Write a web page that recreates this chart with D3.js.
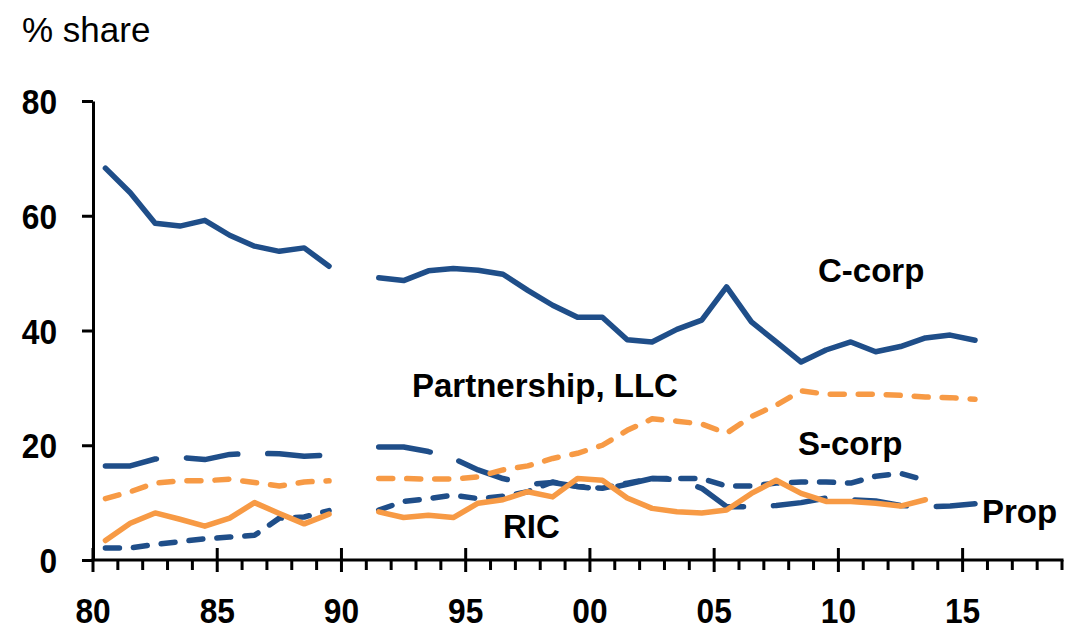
<!DOCTYPE html>
<html>
<head>
<meta charset="utf-8">
<script src="https://cdn.jsdelivr.net/npm/d3@7"></script>
<style>
    body { margin: 0; background: #fff; }
    text { font-family: "Liberation Sans", Arial, sans-serif; }
</style>
</head>
<body>
<div class="share-chart"></div>
<script>
// // Data (1990 is missing in every series)
const years = [1980, 1981, 1982, 1983, 1984, 1985, 1986, 1987, 1988, 1989,
    1990, 1991, 1992, 1993, 1994, 1995, 1996, 1997, 1998, 1999,
    2000, 2001, 2002, 2003, 2004, 2005, 2006, 2007, 2008, 2009,
    2010, 2011, 2012, 2013, 2014, 2015]

const cCorp = [68.3, 64.0, 58.7, 58.2, 59.2, 56.6, 54.7, 53.8, 54.4, 51.2,
    null, 49.2, 48.7, 50.4, 50.8, 50.5, 49.8, 47.0, 44.4, 42.3,
    42.3, 38.4, 38.0, 40.2, 41.8, 47.6, 41.5, 38.0, 34.5, 36.6,
    38.0, 36.3, 37.2, 38.7, 39.2, 38.3]

const partnership = [10.7, 11.9, 13.4, 13.8, 13.8, 14.1, 13.5, 12.9, 13.6, 13.8,
    null, 14.2, 14.2, 14.1, 14.1, 14.5, 15.7, 16.4, 17.7, 18.6,
    20.0, 22.6, 24.6, 24.2, 23.7, 22.1, 25.0, 27.0, 29.5, 28.9,
    28.9, 28.9, 28.7, 28.4, 28.3, 28.0]

const sCorp = [2.1, 2.1, 2.7, 3.2, 3.7, 4.0, 4.3, 7.3, 7.5, 8.6,
    null, 8.7, 10.2, 10.7, 11.3, 10.7, 11.1, 11.9, 13.6, 12.8,
    12.5, 13.4, 14.2, 14.2, 14.2, 12.9, 12.9, 13.4, 13.6, 13.6,
    13.4, 14.6, 15.1, 13.9, null, null]

const ric = [3.4, 6.4, 8.2, 7.1, 5.9, 7.3, 10.0, 8.1, 6.3, 8.0,
    null, 8.4, 7.4, 7.8, 7.4, 9.9, 10.5, 11.9, 11.0, 14.2,
    13.9, 10.8, 9.0, 8.4, 8.2, 8.7, 11.6, 13.9, 11.6, 10.2,
    10.2, 9.9, 9.4, 10.5, null, null]

const prop = [16.4, 16.4, 17.6, 17.9, 17.5, 18.4, 18.6, 18.5, 18.1, 18.3,
    null, 19.7, 19.7, 18.9, 17.7, 15.7, 14.2, 13.2, 13.5, 12.8,
    12.3, 13.2, 14.2, 14.0, 12.5, 9.3, 9.3, 9.5, 10.0, 10.8,
    10.5, 10.3, 9.5, 9.3, 9.4, 9.8]

const yTicks = [0, 20, 40, 60, 80]
const xMajor = [1980, 1985, 1990, 1995, 2000, 2005, 2010, 2015]
const xMinor = [1981, 1982, 1983, 1984, 1986, 1987, 1988, 1989, 1991, 1992,
    1993, 1994, 1996, 1997, 1998, 1999, 2001, 2002, 2003, 2004,
    2006, 2007, 2008, 2009, 2011, 2012, 2013, 2014, 2016, 2017,
    2018, 2019]

// Colours
const navy = "#1F4E89"
const orange = "#F79A45"

const width = 1078
const height = 630
const squeeze = 0.88   // tick numbers are a condensed bold face

const svg = d3.select('.share-chart')
    .append('svg')
    .attr('width', width)
    .attr('height', height)

const x = d3.scaleLinear().domain([1980, 2019]).range([93, 1062])
const y = d3.scaleLinear().domain([0, 80]).range([560, 101])

// series drawn back to front
const series = [
    { values: prop, colour: navy, dash: "52,30" },
    { values: sCorp, colour: navy, dash: "14,14" },
    { values: ric, colour: orange, dash: null },
    { values: partnership, colour: orange, dash: "14,14" },
    { values: cCorp, colour: navy, dash: null }
]

// points sit at mid-year
var line = d3.line()
    .defined(d => d[1] != null)
    .x(d => x(d[0] + 0.5))
    .y(d => y(d[1]))

series.forEach(function (s) {
    svg.append('path')
        .datum(years.map((yr, i) => [yr, s.values[i]]))
        .attr('fill', 'none')
        .attr('stroke', s.colour)
        .attr('stroke-width', 5.5)
        .attr('stroke-linecap', 'round')
        .attr('stroke-linejoin', 'round')
        .attr('stroke-dasharray', s.dash)
        .attr('d', line)
})

// Y axis
var yAxis = svg.append('g')
    .attr('transform', 'translate(93,0)')
    .call(d3.axisLeft(y).tickValues(yTicks).tickSize(11).tickSizeOuter(0))

yAxis.select('.domain').attr('stroke', '#000').attr('stroke-width', 3)
yAxis.selectAll('.tick line').attr('stroke', '#000').attr('stroke-width', 3)
yAxis.selectAll('.tick text')
    .attr('fill', '#000')
    .attr('x', -36 / squeeze)
    .attr('dy', '0.35em')
    .attr('transform', 'scale(' + squeeze + ',1)')
    .style('font-size', '36px')
    .style('font-weight', 'bold')

// X axis: long ticks crossing the line every 5 years, short ticks below each year
var xAxis = svg.append('g')
    .attr('transform', 'translate(0,560)')

xAxis.append('line')
    .attr('x1', x(1980) - 1.5)
    .attr('x2', x(2019) + 1.5)
    .attr('stroke', '#000')
    .attr('stroke-width', 3)

xAxis.selectAll('.minor')
    .data(xMinor)
    .enter()
    .append('line')
    .attr('class', 'minor')
    .attr('x1', d => x(d))
    .attr('x2', d => x(d))
    .attr('y1', 0)
    .attr('y2', 10)
    .attr('stroke', '#000')
    .attr('stroke-width', 3)

xAxis.selectAll('.major')
    .data(xMajor)
    .enter()
    .append('line')
    .attr('class', 'major')
    .attr('x1', d => x(d))
    .attr('x2', d => x(d))
    .attr('y1', -12)
    .attr('y2', 12)
    .attr('stroke', '#000')
    .attr('stroke-width', 3)

xAxis.selectAll('.xlab')
    .data(xMajor)
    .enter()
    .append('text')
    .attr('class', 'xlab')
    .attr('transform', d => 'translate(' + x(d) + ',63) scale(' + squeeze + ',1)')
    .attr('text-anchor', 'middle')
    .style('font-size', '36px')
    .style('font-weight', 'bold')
    .text(d => d3.format('02')(d % 100))

// Title
svg.append('text')
    .attr('x', 22)
    .attr('y', 42)
    .style('font-size', '35px')
    .text('% share')

// Series labels
const labels = [
    { text: "C-corp", px: 818, py: 282 },
    { text: "Partnership, LLC", px: 412, py: 397 },
    { text: "S-corp", px: 798, py: 455 },
    { text: "RIC", px: 503, py: 538 },
    { text: "Prop", px: 982, py: 523 }
]

svg.selectAll('.series-label')
    .data(labels)
    .enter()
    .append('text')
    .attr('class', 'series-label')
    .attr('x', d => d.px)
    .attr('y', d => d.py)
    .style('font-size', '33px')
    .style('font-weight', 'bold')
    .attr('fill', '#000')
    .text(d => d.text)
</script>
</body>
</html>
